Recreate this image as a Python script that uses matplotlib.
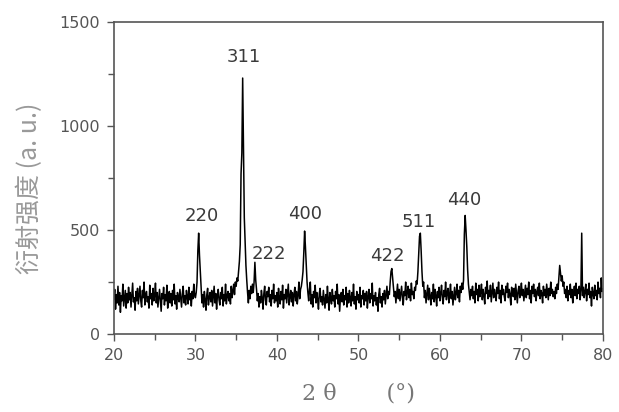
import numpy as np
import matplotlib
matplotlib.use("Agg")
import matplotlib.pyplot as plt
from matplotlib.ticker import MultipleLocator

# 2theta from 20 to 80 deg, step 0.1 (one row = 1 deg)
two_theta = np.round(np.arange(20.0, 80.0001, 0.1), 1)
intensity = [
    170, 215, 120, 190, 150, 230, 140, 200, 105, 185,   # 20
    160, 240, 135, 175, 210, 125, 195, 150, 225, 165,   # 21
    200, 130, 185, 245, 155, 175, 115, 205, 160, 220,   # 22
    145, 190, 230, 160, 130, 210, 175, 250, 140, 185,   # 23
    205, 155, 180, 125, 235, 170, 195, 140, 220, 160,   # 24
    185, 245, 150, 200, 130, 175, 215, 160, 110, 195,   # 25
    170, 225, 140, 190, 160, 235, 125, 180, 205, 150,   # 26
    195, 135, 210, 165, 240, 145, 185, 120, 200, 175,   # 27
    155, 215, 170, 130, 195, 230, 150, 185, 140, 210,   # 28
    180, 145, 225, 165, 195, 135, 205, 170, 240, 190,   # 29
    175, 200, 250, 400, 485, 380, 300, 220, 150, 190,   # 30
    130, 205, 165, 115, 190, 220, 140, 175, 200, 155,   # 31
    210, 135, 180, 230, 150, 195, 120, 185, 215, 165,   # 32
    140, 200, 170, 225, 135, 190, 160, 240, 145, 185,   # 33
    205, 160, 195, 145, 230, 175, 210, 240, 190, 250,   # 34
    230, 270, 255, 300, 350, 430, 770, 870, 1230, 900,  # 35
    560, 440, 330, 260, 200, 150, 210, 170, 230, 195,   # 36
    240, 200, 250, 345, 260, 215, 160, 195, 130, 180,   # 37
    150, 210, 175, 120, 195, 230, 165, 140, 205, 180,   # 38
    225, 155, 190, 135, 210, 170, 240, 150, 185, 160,   # 39
    200, 130, 220, 175, 145, 205, 165, 235, 125, 190,   # 40
    170, 215, 150, 195, 240, 140, 180, 210, 155, 200,   # 41
    135, 190, 225, 160, 205, 145, 185, 250, 170, 215,   # 42
    230, 260, 300, 390, 495, 420, 330, 250, 200, 160,   # 43
    215, 250, 145, 190, 130, 205, 175, 235, 150, 200,   # 44
    165, 120, 195, 220, 155, 180, 140, 210, 170, 125,   # 45
    190, 150, 230, 165, 115, 200, 175, 145, 215, 160,   # 46
    185, 130, 205, 170, 240, 145, 190, 110, 180, 200,   # 47
    155, 215, 140, 185, 165, 225, 130, 195, 150, 210,   # 48
    175, 135, 200, 160, 240, 145, 180, 120, 205, 165,   # 49
    190, 150, 225, 130, 185, 170, 210, 140, 195, 160,   # 50
    205, 125, 180, 215, 150, 195, 170, 245, 135, 185,   # 51
    160, 200, 140, 175, 110, 190, 220, 150, 180, 130,   # 52
    195, 165, 210, 145, 185, 230, 170, 205, 190, 250,   # 53
    300, 315, 270, 230, 180, 205, 150, 195, 240, 170,   # 54
    215, 160, 195, 230, 175, 140, 205, 185, 250, 165,   # 55
    200, 230, 175, 215, 160, 245, 190, 205, 170, 225,   # 56
    210, 255, 240, 300, 380, 470, 485, 400, 300, 230,   # 57
    250, 175, 210, 150, 195, 235, 165, 220, 185, 140,   # 58
    200, 170, 240, 155, 215, 185, 135, 205, 175, 225,   # 59
    160, 195, 235, 175, 145, 210, 180, 250, 165, 200,   # 60
    220, 150, 190, 240, 170, 205, 140, 185, 225, 165,   # 61
    195, 240, 175, 210, 155, 230, 200, 245, 215, 260,   # 62
    480, 570, 500, 420, 310, 240, 200, 165, 215, 185,   # 63
    230, 170, 205, 150, 245, 190, 215, 160, 235, 180,   # 64
    200, 240, 165, 215, 185, 145, 225, 195, 255, 170,   # 65
    210, 180, 235, 155, 200, 245, 175, 215, 190, 160,   # 66
    225, 195, 250, 170, 210, 150, 235, 190, 215, 180,   # 67
    160, 230, 200, 245, 175, 215, 190, 140, 225, 205,   # 68
    180, 220, 165, 240, 195, 150, 210, 230, 175, 205,   # 69
    245, 185, 215, 160, 200, 235, 175, 220, 190, 250,   # 70
    170, 210, 150, 230, 195, 240, 180, 215, 160, 205,   # 71
    225, 185, 245, 170, 210, 195, 150, 230, 185, 215,   # 72
    175, 240, 200, 165, 220, 185, 250, 195, 215, 180,   # 73
    205, 170, 225, 195, 240, 215, 270, 330, 290, 255,   # 74
    280, 230, 250, 195, 215, 175, 230, 160, 210, 190,   # 75
    240, 175, 215, 150, 200, 230, 185, 245, 170, 215,   # 76
    195, 230, 165, 210, 485, 185, 225, 175, 205, 240,   # 77
    160, 215, 190, 245, 175, 205, 135, 225, 195, 170,   # 78
    235, 185, 210, 165, 250, 195, 220, 175, 270, 205,   # 79
    215,                                                # 80.0
]

peak_labels = ["220", "311", "222", "400", "422", "511", "440"]
label_x = [30.8, 35.95, 39.0, 43.4, 53.5, 57.4, 62.95]
label_y = [567, 1332, 385, 577, 375, 538, 644]

fig = plt.figure(figsize=(6.19, 4.12), dpi=100)
ax = fig.add_axes([0.184, 0.189, 0.790, 0.758])

ax.plot(two_theta, intensity, color="black", lw=1.1)

for lab, x, y in zip(peak_labels, label_x, label_y):
    ax.text(x, y, lab, ha="center", va="center", fontsize=13,
            color="#3a3a3a", family="DejaVu Sans")

ax.set_xlim(20, 80)
ax.set_ylim(0, 1500)
ax.xaxis.set_major_locator(MultipleLocator(10))
ax.xaxis.set_minor_locator(MultipleLocator(5))
ax.yaxis.set_major_locator(MultipleLocator(500))
ax.yaxis.set_minor_locator(MultipleLocator(250))
ax.tick_params(which="major", direction="out", length=5, width=1.0,
               color="#555555", labelcolor="#555555", labelsize=11.5, pad=5)
ax.tick_params(which="minor", direction="out", length=4, width=1.0,
               color="#555555")
for s in ax.spines.values():
    s.set_color("#555555")
    s.set_linewidth(1.2)

fig.text(30 / 619, 1 - 188 / 412, "衍射强度 (a. u.)", rotation=90,
         ha="center", va="center", family=["Noto Sans CJK SC", "DejaVu Sans"],
         fontsize=18, color="#999999")
ax.set_xlabel("2 θ       (°)", family="DejaVu Serif", fontsize=16,
              color="#777777", labelpad=14)

fig.savefig("out.png", dpi=100, facecolor="white")
